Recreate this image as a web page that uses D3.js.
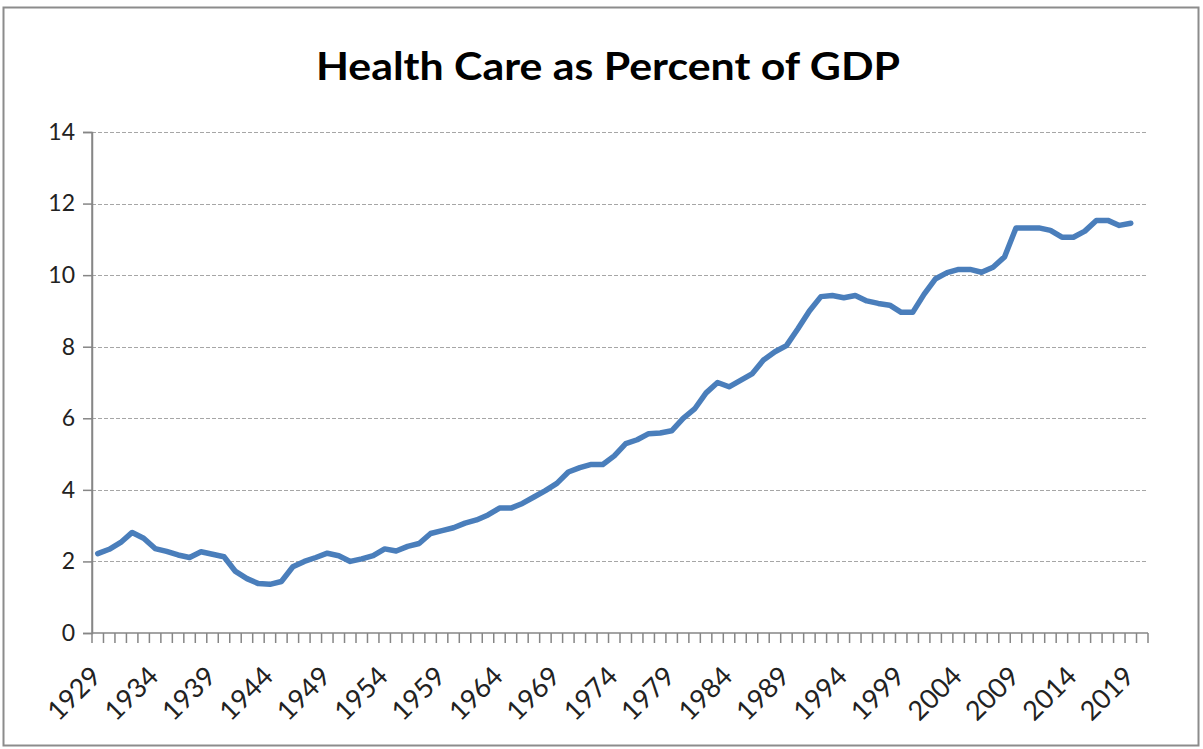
<!DOCTYPE html>
<html>
<head>
<meta charset="utf-8">
<script src="https://cdn.jsdelivr.net/npm/d3@7"></script>
<style>
  html, body { margin: 0; padding: 0; background: #fff; }
  svg { display: block; }
</style>
</head>
<body>
<script>
// ---- data ----
const title = "Health Care as Percent of GDP";
const categoryYears = d3.range(1929, 2021); // 1929..2020 (2020 category empty)
const dataYears = d3.range(1929, 2020);     // 1929..2019
const healthPct = [
  2.22, 2.34, 2.53, 2.81, 2.65, 2.36, 2.28, 2.18, 2.11, 2.27,
  2.20, 2.13, 1.72, 1.52, 1.38, 1.36, 1.44, 1.85, 2.00, 2.11,
  2.23, 2.16, 2.00, 2.07, 2.16, 2.35, 2.29, 2.42, 2.50, 2.78,
  2.86, 2.94, 3.07, 3.16, 3.30, 3.49, 3.49, 3.62, 3.80, 3.98,
  4.18, 4.50, 4.62, 4.71, 4.71, 4.95, 5.29, 5.40, 5.57, 5.59,
  5.65, 6.00, 6.26, 6.71, 7.00, 6.88, 7.06, 7.24, 7.63, 7.86,
  8.03, 8.50, 9.00, 9.40, 9.43, 9.37, 9.43, 9.28, 9.21, 9.16,
  8.96, 8.96, 9.47, 9.90, 10.07, 10.16, 10.16, 10.08, 10.22, 10.51,
  11.32, 11.32, 11.32, 11.25, 11.06, 11.06, 11.23, 11.53, 11.53, 11.39,
  11.45
];
const yTicks = [0, 2, 4, 6, 8, 10, 12, 14];
const xLabelYears = [1929, 1934, 1939, 1944, 1949, 1954, 1959, 1964, 1969, 1974,
                     1979, 1984, 1989, 1994, 1999, 2004, 2009, 2014, 2019];

// ---- layout ----
const W = 1203, H = 749;
const plot = { left: 92, right: 1148, top: 132, bottom: 633 };

const svg = d3.select("body").append("svg")
  .attr("width", W).attr("height", H);

// outer chart frame
svg.append("rect")
  .attr("x", 3.5).attr("y", 7.5)
  .attr("width", 1195).attr("height", 738)
  .attr("fill", "#fff")
  .attr("stroke", "#8c8c8c").attr("stroke-width", 2);

const x = d3.scaleBand().domain(categoryYears).range([plot.left, plot.right]).padding(0);
const y = d3.scaleLinear().domain([0, 14]).range([plot.bottom, plot.top]);
const cx = yr => x(yr) + x.bandwidth() / 2;

// title
svg.append("text")
  .attr("x", 608).attr("y", 80)
  .attr("text-anchor", "middle")
  .attr("font-family", "Lato, 'Open Sans', sans-serif")
  .attr("font-weight", "bold")
  .attr("font-size", 39)
  .attr("textLength", 584)
  .attr("lengthAdjust", "spacingAndGlyphs")
  .attr("fill", "#000")
  .text(title);

// gridlines
svg.append("g")
  .selectAll("line")
  .data(yTicks.filter(d => d > 0))
  .join("line")
  .attr("x1", plot.left).attr("x2", plot.right)
  .attr("y1", d => Math.round(y(d)) + 0.5).attr("y2", d => Math.round(y(d)) + 0.5)
  .attr("stroke", "#a6a6a6").attr("stroke-width", 1.2)
  .attr("stroke-dasharray", "4,2");

// y axis
const yAxis = d3.axisLeft(y).tickValues(yTicks).tickSize(9).tickPadding(8).tickFormat(d3.format("d"));
const gy = svg.append("g").attr("transform", `translate(${plot.left},0)`).call(yAxis);
gy.select(".domain").attr("stroke", "#868686").attr("stroke-width", 1.5);
gy.selectAll(".tick line").attr("stroke", "#868686").attr("stroke-width", 1.5);
gy.selectAll(".tick text")
  .attr("font-family", "Lato, 'Open Sans', sans-serif")
  .attr("font-size", 23)
  .attr("fill", "#222");

// x axis: ticks at category boundaries
const gx = svg.append("g");
gx.append("line")
  .attr("x1", plot.left).attr("x2", plot.right)
  .attr("y1", plot.bottom).attr("y2", plot.bottom)
  .attr("stroke", "#868686").attr("stroke-width", 1.5);
const boundaries = categoryYears.map(d => x(d)).concat([plot.right]);
gx.selectAll("line.tick")
  .data(boundaries)
  .join("line")
  .attr("class", "tick")
  .attr("x1", d => d).attr("x2", d => d)
  .attr("y1", plot.bottom).attr("y2", plot.bottom + 10)
  .attr("stroke", "#868686").attr("stroke-width", 1.5);
gx.selectAll("text")
  .data(xLabelYears)
  .join("text")
  .attr("transform", d => `translate(${cx(d) + 5},${plot.bottom + 45}) rotate(-45)`)
  .attr("text-anchor", "end")
  .attr("font-family", "Lato, 'Open Sans', sans-serif")
  .attr("font-size", 27)
  .attr("fill", "#222")
  .text(d => d);

// y axis line drawn again on top
svg.append("line")
  .attr("x1", plot.left).attr("x2", plot.left)
  .attr("y1", plot.top).attr("y2", plot.bottom)
  .attr("stroke", "#868686").attr("stroke-width", 1.5);

// data line
const line = d3.line()
  .x((d, i) => cx(dataYears[i]))
  .y(d => y(d));
svg.append("path")
  .datum(healthPct)
  .attr("d", line)
  .attr("fill", "none")
  .attr("stroke", "#4a7ebb")
  .attr("stroke-width", 5.5)
  .attr("stroke-linejoin", "round")
  .attr("stroke-linecap", "round");
</script>
</body>
</html>
